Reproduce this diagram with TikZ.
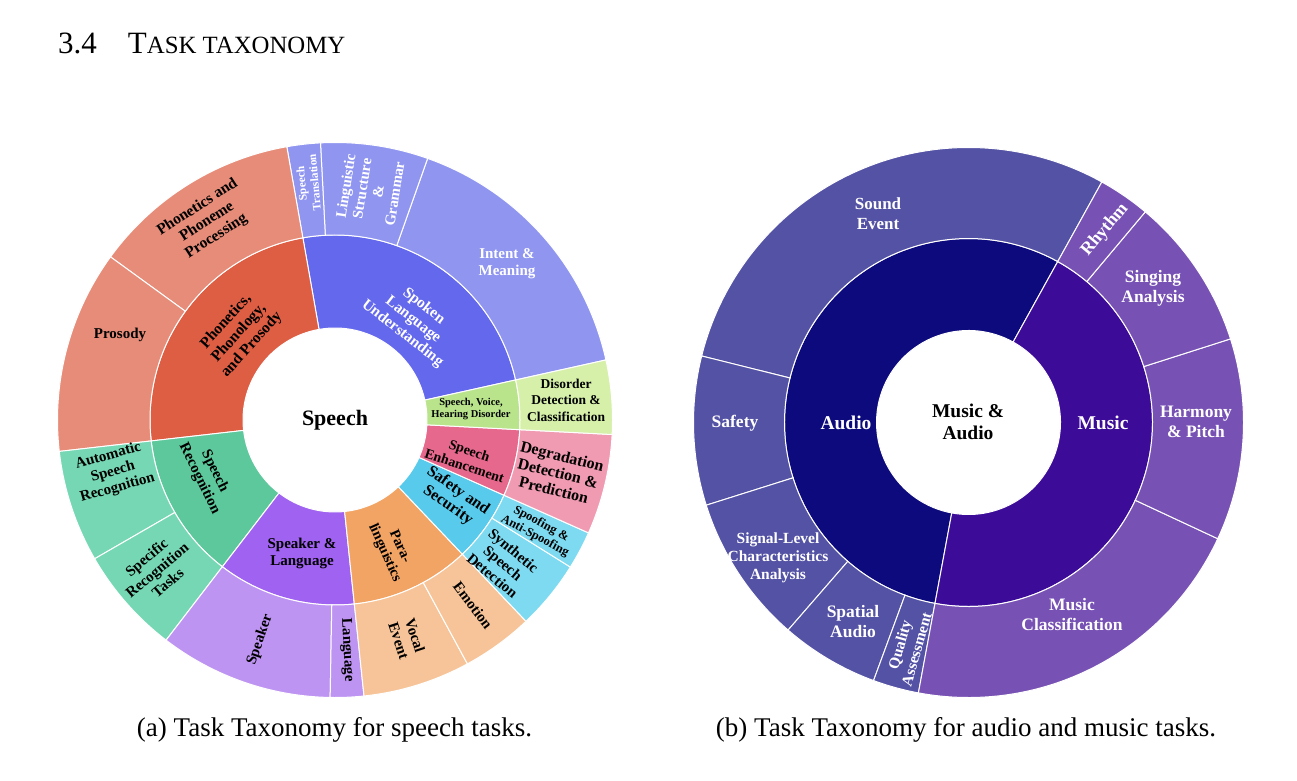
\documentclass[tikz,border=0pt]{standalone}
\usepackage{fontspec}
\setmainfont{Liberation Serif}
\definecolor{slui}{HTML}{6468EC}\definecolor{sluo}{HTML}{9096F0}
\definecolor{phoi}{HTML}{DE5E44}\definecolor{phoo}{HTML}{E68C78}
\definecolor{sri}{HTML}{5DC89B}\definecolor{sro}{HTML}{76D7B4}
\definecolor{spki}{HTML}{A062F0}\definecolor{spko}{HTML}{BE94F2}
\definecolor{parai}{HTML}{F2A464}\definecolor{parao}{HTML}{F6C498}
\definecolor{safi}{HTML}{58CAEB}\definecolor{safo}{HTML}{7EDAF0}
\definecolor{enhi}{HTML}{E6688C}\definecolor{enho}{HTML}{F09BB2}
\definecolor{disi}{HTML}{B9E48C}\definecolor{diso}{HTML}{D6F0AA}
\definecolor{audi}{HTML}{0C0A7C}\definecolor{audo}{HTML}{5452A4}
\definecolor{musi}{HTML}{3C0C98}\definecolor{muso}{HTML}{7752B4}
\newcommand\mysector[5]{%
  \fill[#5, draw=white, line width=1pt] (#3:#1pt) arc[start angle=#3, end angle=#4, radius=#1pt]
    -- (#4:#2pt) arc[start angle=#4, end angle=#3, radius=#2pt] -- cycle;}
\begin{document}
\begin{tikzpicture}[x=1pt,y=1pt,
  lab/.style 2 args={align=center, inner sep=0pt, font=\bfseries\fontsize{#1}{#2}\selectfont},
  dk/.style={text=black},
  wt/.style={text=white}]
\useasboundingbox[fill=white] (0,0) rectangle (1297,780);
% title
\node[anchor=base west, inner sep=0pt, font=\fontsize{31}{33}\selectfont] (title) at (58,726)
  {3.4\hspace{1em}T{\fontsize{24.8}{26}\selectfont ASK TAXONOMY}};
% ---------------- left chart ----------------
\begin{scope}[shift={(335,360)}]
\mysector{92}{185}{12.5}{100}{slui}
\mysector{92}{185}{100}{186.5}{phoi}
\mysector{92}{185}{186.5}{232.5}{sri}
\mysector{92}{185}{232.5}{276}{spki}
\mysector{92}{185}{276}{313.5}{parai}
\mysector{92}{185}{313.5}{336}{safi}
\mysector{92}{185}{336}{357}{enhi}
\mysector{92}{185}{357}{372.5}{disi}
\mysector{185}{277.5}{12.5}{70.5}{sluo}
\mysector{185}{277.5}{70.5}{93}{sluo}
\mysector{185}{277.5}{93}{100}{sluo}
\mysector{185}{277.5}{100}{144}{phoo}
\mysector{185}{277.5}{144}{186.5}{phoo}
\mysector{185}{277.5}{186.5}{210}{sro}
\mysector{185}{277.5}{210}{232.5}{sro}
\mysector{185}{277.5}{232.5}{269}{spko}
\mysector{185}{277.5}{269}{276}{spko}
\mysector{185}{277.5}{276}{298.5}{parao}
\mysector{185}{277.5}{298.5}{313.5}{parao}
\mysector{185}{277.5}{313.5}{328}{safo}
\mysector{185}{277.5}{328}{336}{safo}
\mysector{185}{277.5}{336}{357}{enho}
\mysector{185}{277.5}{357}{372.5}{diso}
\end{scope}
\node[lab={22}{24}, dk] (speech) at (335,360) {Speech};
\node[lab={15.5}{17.3}, dk, rotate=48] (ppp) at (239,447) {Phonetics,\\Phonology,\\and Prosody};
\node[lab={15.5}{17.3}, dk, rotate=33] (pproc) at (207,558) {Phonetics and\\Phoneme\\Processing};
\node[lab={15}{17}, dk] (prosody) at (120,445) {Prosody};
\node[lab={11.5}{13}, wt, rotate=95] (sptrans) at (308,597) {Speech\\Translation};
\node[lab={15}{16.5}, wt, rotate=81] (ling) at (370,590) {Linguistic\\Structure\\\&\\Grammar};
\node[lab={15}{17}, wt] (intent) at (507,516) {Intent \&\\Meaning};
\node[lab={15.5}{17.3}, wt, rotate=-38] (slu) at (413,460) {Spoken\\Language\\Understanding};
\node[lab={10.5}{12.5}, dk] (svhd) at (471,371) {Speech, Voice,\\Hearing Disorder};
\node[lab={13.5}{16.5}, dk] (ddc) at (566,380) {Disorder\\Detection \&\\Classification};
\node[lab={14}{16}, dk, rotate=-18] (senh) at (467,322) {Speech\\Enhancement};
\node[lab={16}{17.5}, dk, rotate=-14] (ddp) at (558,307) {Degradation\\Detection \&\\Prediction};
\node[lab={16}{17.5}, dk, rotate=-35] (safety) at (453,282) {Safety and\\Security};
\node[lab={12.5}{13.5}, dk, rotate=-28] (spoof) at (538,250) {Spoofing \&\\Anti-Spoofing};
\node[lab={15}{16.5}, dk, rotate=-40] (synth) at (503,217) {Synthetic\\Speech\\Detection};
\node[lab={15}{17}, dk, rotate=-53] (emotion) at (473,175) {Emotion};
\node[lab={15}{17}, dk, rotate=-72] (vocal) at (407,142) {Vocal\\Event};
\node[lab={14.5}{16.5}, dk, rotate=-66] (para) at (392,230) {Para-\\linguistics};
\node[lab={15}{17}, dk, rotate=-87] (language) at (347,130) {Language};
\node[lab={15}{17}, dk, rotate=71] (speaker) at (260,140) {Speaker};
\node[lab={15}{17}, dk] (spklang) at (302,227) {Speaker \&\\Language};
\node[lab={15}{16.5}, dk, rotate=40] (specific) at (157,210) {Specific\\Recognition\\Tasks};
\node[lab={15}{16.5}, dk, rotate=16] (asr) at (113,308) {Automatic\\Speech\\Recognition};
\node[lab={15}{17}, dk, rotate=-64] (sr) at (207,305) {Speech\\Recognition};
% ---------------- right chart ----------------
\begin{scope}[shift={(968.5,357.5)}]
\mysector{92}{184}{61}{259.5}{audi}
\mysector{92}{184}{259.5}{421}{musi}
\mysector{184}{275}{61}{166}{audo}
\mysector{184}{275}{166}{197.5}{audo}
\mysector{184}{275}{197.5}{229}{audo}
\mysector{184}{275}{229}{249.8}{audo}
\mysector{184}{275}{249.8}{259.5}{audo}
\mysector{184}{275}{259.5}{335}{muso}
\mysector{184}{275}{335}{377.7}{muso}
\mysector{184}{275}{377.7}{410}{muso}
\mysector{184}{275}{410}{421}{muso}
\end{scope}
\node[lab={19.5}{22}, dk] (mua) at (968,358) {Music \&\\Audio};
\node[lab={19.5}{22}, wt] (audio) at (846,357) {Audio};
\node[lab={19.5}{22}, wt] (music) at (1103,357) {Music};
\node[lab={17}{20}, wt] (sound) at (878,566) {Sound\\Event};
\node[lab={17.5}{20}, wt] (safety2) at (735,357) {Safety};
\node[lab={15.5}{18}, wt] (signal) at (778,222) {Signal-Level\\Characteristics\\Analysis};
\node[lab={17.5}{20}, wt] (spatial) at (853,158) {Spatial\\Audio};
\node[lab={15.5}{17.5}, wt, rotate=74] (quality) at (908,133) {Quality\\Assessment};
\node[lab={17.5}{20}, wt] (mclass) at (1072,165) {Music\\Classification};
\node[lab={17.5}{20}, wt] (harmony) at (1196,358) {Harmony\\\& Pitch};
\node[lab={17.5}{20}, wt] (singing) at (1153,492) {Singing\\Analysis};
\node[lab={18}{20}, wt, rotate=50] (rhythm) at (1105,550) {Rhythm};
% captions
\node[inner sep=0pt, font=\fontsize{27}{29}\selectfont] (capa) at (334.5,50) {(a) Task Taxonomy for speech tasks.};
\node[inner sep=0pt, font=\fontsize{27}{29}\selectfont] (capb) at (966,50) {(b) Task Taxonomy for audio and music tasks.};
\end{tikzpicture}
\end{document}
